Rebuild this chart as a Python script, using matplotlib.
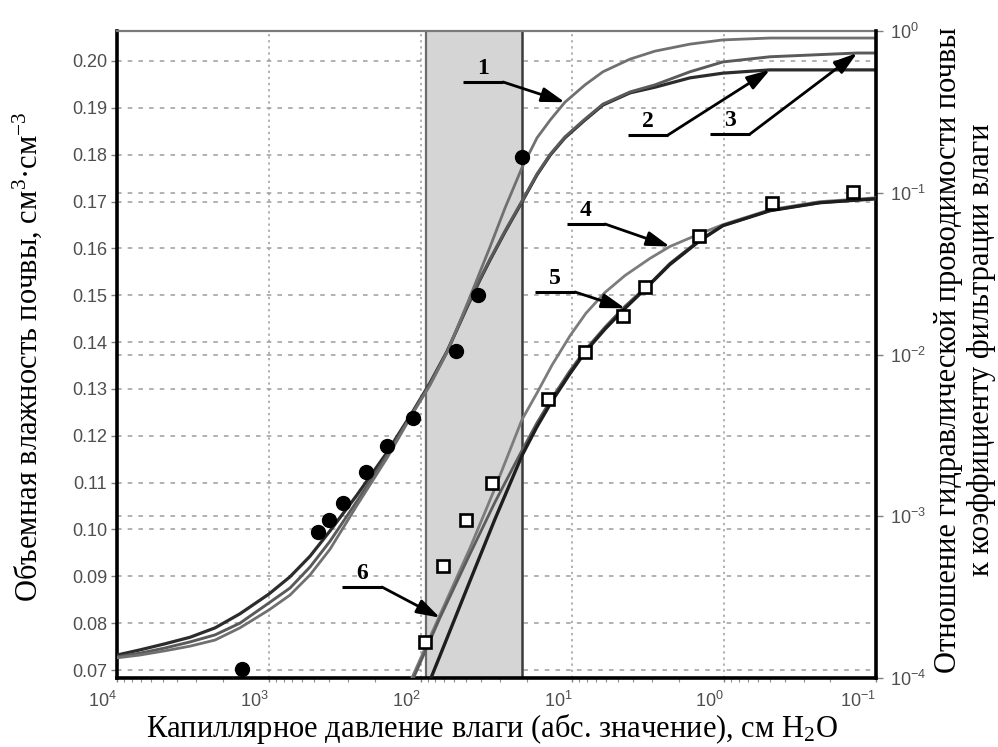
import numpy as np
import matplotlib.pyplot as plt
from matplotlib.lines import Line2D
from matplotlib.ticker import FixedLocator, FuncFormatter, LogLocator, NullFormatter, NullLocator
from matplotlib.transforms import blended_transform_factory

# Retention curves 1-3: capillary pressure (cm H2O) and water content
h_ret = [10000, 7060, 4830, 3300, 2260, 1550, 1000, 725, 535, 395, 262, 166, 112, 86.7,
         67.0, 48.7, 40.6, 34.9, 27.8, 21.5, 17.1, 14.0, 11.2, 8.26, 6.29, 4.17, 2.86,
         1.68, 1.02, 0.499, 0.133, 0.1]
theta1 = [0.0726, 0.0732, 0.0741, 0.0751, 0.0764, 0.0790, 0.0828, 0.0860, 0.0903, 0.0958,
          0.1052, 0.1153, 0.1249, 0.1308, 0.1378, 0.1486, 0.1550, 0.1603, 0.1686, 0.1772,
          0.1836, 0.1874, 0.1912, 0.1949, 0.1977, 0.2004, 0.2021, 0.2036, 0.2045, 0.2049,
          0.2049, 0.2049]
theta2 = [0.0732, 0.0743, 0.0756, 0.0770, 0.0790, 0.0820, 0.0862, 0.0899, 0.0943, 0.0997,
          0.1074, 0.1165, 0.1253, 0.1313, 0.1380, 0.1479, 0.1533, 0.1575, 0.1635, 0.1699,
          0.1757, 0.1799, 0.1836, 0.1874, 0.1906, 0.1932, 0.1944, 0.1964, 0.1974, 0.1981,
          0.1981, 0.1981]
theta3 = [0.0728, 0.0736, 0.0747, 0.0760, 0.0775, 0.0800, 0.0843, 0.0875, 0.0920, 0.0975,
          0.1061, 0.1159, 0.1251, 0.1311, 0.1379, 0.1481, 0.1535, 0.1577, 0.1637, 0.1701,
          0.1759, 0.1801, 0.1838, 0.1876, 0.1908, 0.1934, 0.1949, 0.1977, 0.1998, 0.2009,
          0.2017, 0.2017]

# Relative hydraulic conductivity curves 4-6
h_k = [126.7, 74.5, 47.3, 32.4, 21.5, 17.1, 13.6, 10.4, 8.14, 6.10, 4.50, 3.08, 2.28,
       1.44, 1.02, 0.499, 0.234, 0.1]
k4 = [8.03e-5, 2.46e-4, 6.35e-4, 1.487e-3, 3.95e-3, 5.79e-3, 8.62e-3, 0.0130, 0.0180,
      0.0242, 0.0308, 0.0393, 0.0465, 0.0559, 0.0635, 0.0786, 0.0881, 0.0931]
k5 = [4.01e-5, 1.375e-4, 3.98e-4, 9.58e-4, 2.37e-3, 3.58e-3, 5.17e-3, 7.59e-3, 0.01051,
      0.01435, 0.0193, 0.0272, 0.0360, 0.0507, 0.0626, 0.0775, 0.0868, 0.0918]
k6 = [7.59e-5, 2.36e-4, 5.84e-4, 1.22e-3, 2.55e-3, 3.79e-3, 5.40e-3, 7.92e-3, 0.01081,
      0.01477, 0.0199, 0.0275, 0.0366, 0.0514, 0.0626, 0.0775, 0.0868, 0.0918]

# Measurements
h_theta_obs = [1500, 474, 401, 324, 229, 166, 112, 58.5, 41.9, 21.5]
theta_obs = [0.0702, 0.0995, 0.1020, 0.1057, 0.1123, 0.1178, 0.1238, 0.1381, 0.1501, 0.1795]
h_k_obs = [93.5, 71.1, 50.2, 33.9, 14.5, 8.26, 4.64, 3.33, 1.46, 0.484, 0.142]
k_obs = [1.68e-4, 4.92e-4, 9.45e-4, 1.60e-3, 5.32e-3, 0.01036, 0.01726, 0.0260,
         0.0543, 0.0867, 0.1015]

# shaded pressure range, cm H2O
band_hi, band_lo = 92, 21.5

theta_ticks = [0.07, 0.08, 0.09, 0.10, 0.11, 0.12, 0.13, 0.14, 0.15, 0.16, 0.17, 0.18, 0.19, 0.20]
k_grid = [1e-3, 1e-2, 1e-1]

plt.rcParams['font.family'] = 'Liberation Serif'
plt.rcParams['mathtext.default'] = 'regular'

W, H = 998, 747
fig = plt.figure(figsize=(W / 100, H / 100), dpi=100)
ax = fig.add_axes([117 / W, 1 - 678 / H, 759 / W, 647 / H])
ax2 = ax.twinx()

grid_kw = dict(color='#9c9c9c', lw=1.1, ls=(0, (3, 4)))

# grids sit under the shaded band
ax.set_axisbelow(True)
ax.grid(axis='y', **grid_kw)
ax.grid(axis='x', which='major', color='#9c9c9c', lw=1.1, ls=(0, (1.5, 2.5)))
trans = blended_transform_factory(ax.transAxes, ax2.transData)
for k in k_grid:
    ax.add_line(Line2D([0, 1], [k, k], transform=trans, zorder=0.6, **grid_kw))

ax.axvspan(band_hi, band_lo, color='#d5d5d5', zorder=1)
ax.axvline(band_hi, color='#6a6a6a', lw=1.6, zorder=1.1)
ax.axvline(band_lo, color='#3c3c3c', lw=1.8, zorder=1.1)

# water retention
ax.plot(h_ret, theta2, color='#2c2c2c', lw=2.3, zorder=3)
ax.plot(h_ret, theta3, color='#5a5a5a', lw=2.1, zorder=3)
ax.plot(h_ret, theta1, color='#707070', lw=2.0, zorder=3)
ax.plot(h_theta_obs, theta_obs, 'o', color='black', ms=10, zorder=4)

# conductivity
ax2.plot(h_k, k4, color='#7c7c7c', lw=2.0, zorder=3)
ax2.plot(h_k, k6, color='#5c5c5c', lw=2.0, zorder=3)
ax2.plot(h_k, k5, color='#1e1e1e', lw=2.4, zorder=3)
ax2.plot(h_k_obs, k_obs, 's', mfc='white', mec='black', mew=1.9, ms=8.5, zorder=4)

ax.set_xscale('log')
ax.set_xlim(1e4, 1e-1)
ax.set_ylim(0.0683, 0.2064)
ax2.set_yscale('log')
ax2.set_ylim(1e-4, 1)

tick_font = 'Liberation Sans'
ax.yaxis.set_major_locator(FixedLocator(theta_ticks))
ax.yaxis.set_major_formatter(FuncFormatter(lambda v, p: f'{v:.2f}'))
ax.tick_params(axis='y', direction='out', length=4, width=1, color='#808080',
               labelsize=13, labelcolor='#4e4e4e', pad=3, labelfontfamily=tick_font)

pow_fmt = FuncFormatter(lambda v, p: r'$10^{%d}$' % round(np.log10(v)))
ax.xaxis.set_major_locator(LogLocator(base=10, numticks=10))
ax.xaxis.set_minor_locator(LogLocator(base=10, subs=np.arange(2, 10), numticks=20))
ax.xaxis.set_minor_formatter(NullFormatter())
ax.xaxis.set_major_formatter(pow_fmt)
ax.tick_params(axis='x', which='major', direction='out', length=3, width=1, color='#808080',
               labelsize=13, labelcolor='#4e4e4e', pad=6, labelfontfamily=tick_font)
ax.tick_params(axis='x', which='minor', direction='out', length=3, width=0.8, color='#909090')
for lab in ax.get_xticklabels():
    lab.set_horizontalalignment('right')

ax2.yaxis.set_major_locator(LogLocator(base=10, numticks=10))
ax2.yaxis.set_minor_locator(NullLocator())
ax2.yaxis.set_major_formatter(pow_fmt)
ax2.tick_params(axis='y', direction='out', length=5, width=1, color='#808080',
                labelsize=13, labelcolor='#4e4e4e', pad=5, labelfontfamily=tick_font)

for name in ['left', 'bottom']:
    ax.spines[name].set_linewidth(2.6)
    ax.spines[name].set_color('black')
ax.spines['top'].set_linewidth(1.6)
ax.spines['top'].set_color('#7a7a7a')
ax.spines['right'].set_visible(False)
for name in ['left', 'bottom', 'top']:
    ax2.spines[name].set_visible(False)
ax2.spines['right'].set_linewidth(2.6)
ax2.spines['right'].set_color('black')


def callout(axis, num, tip, line_x0, line_x1, line_y):
    axis.annotate('', xy=tip, xycoords='data', xytext=(line_x1, line_y),
                  textcoords=ax.transAxes,
                  arrowprops=dict(arrowstyle='-|>,head_length=0.7,head_width=0.22',
                                  color='black', lw=2.0, shrinkA=0, shrinkB=0,
                                  mutation_scale=20), zorder=6)
    ax.plot([line_x0, line_x1], [line_y, line_y], transform=ax.transAxes,
            color='black', lw=2.2, solid_capstyle='butt', zorder=6)
    ax.text((line_x0 + line_x1) / 2, line_y + 0.012, num, transform=ax.transAxes,
            ha='center', va='baseline', fontsize=17, fontweight='bold', zorder=6)


callout(ax, '1', (h_ret[22], theta1[22]), 0.4559, 0.5086, 0.9212)
callout(ax, '2', (h_ret[29], theta2[29]), 0.6733, 0.7260, 0.8393)
callout(ax, '3', (h_ret[30], theta3[30]), 0.7813, 0.8340, 0.8408)
callout(ax2, '4', (h_k[12], k4[12]), 0.5929, 0.6430, 0.7017)
callout(ax2, '5', (h_k[10], k5[10]), 0.5507, 0.6034, 0.5966)
callout(ax2, '6', (h_k[1], k6[1]), 0.2964, 0.3491, 0.1406)

label_size = 22
fig.text(492 / W, 1 - 737.5 / H, 'Капиллярное давление влаги (абс. значение), см H$_2$O',
         ha='center', va='baseline', fontsize=label_size)
fig.text(27 / W, 1 - 357 / H, 'Объемная влажность почвы, см$^3$·см$^{-3}$',
         ha='center', va='center', rotation=90, fontsize=label_size)
fig.text(965 / W, 1 - 350 / H,
         'Отношение гидравлической проводимости почвы\nк коэффициенту фильтрации влаги',
         ha='center', va='center', rotation=90, fontsize=label_size, linespacing=1.22,
         multialignment='center')

fig.savefig('out.png', dpi=100)
